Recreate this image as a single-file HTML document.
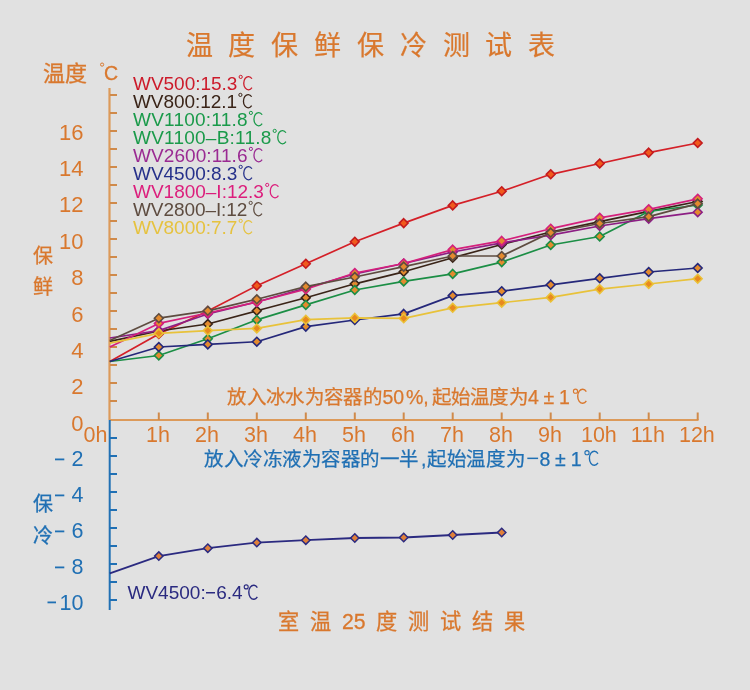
<!DOCTYPE html><html lang="zh-CN"><head><meta charset="utf-8"><style>html,body{margin:0;padding:0;background:#e1e1e1;}svg{display:block;will-change:transform}text{font-family:'Liberation Sans', sans-serif;}</style></head><body>
<svg width="750" height="690" viewBox="0 0 750 690">
<rect width="750" height="690" fill="#e1e1e1"/>
<text x="185.5" y="55.2" font-size="27" fill="#d9782e" stroke="#d9782e" stroke-width="0.22">温</text>
<text x="228.3" y="55.2" font-size="27" fill="#d9782e" stroke="#d9782e" stroke-width="0.22">度</text>
<text x="271.2" y="55.2" font-size="27" fill="#d9782e" stroke="#d9782e" stroke-width="0.22">保</text>
<text x="314.1" y="55.2" font-size="27" fill="#d9782e" stroke="#d9782e" stroke-width="0.22">鲜</text>
<text x="356.9" y="55.2" font-size="27" fill="#d9782e" stroke="#d9782e" stroke-width="0.22">保</text>
<text x="399.8" y="55.2" font-size="27" fill="#d9782e" stroke="#d9782e" stroke-width="0.22">冷</text>
<text x="442.6" y="55.2" font-size="27" fill="#d9782e" stroke="#d9782e" stroke-width="0.22">测</text>
<text x="485.4" y="55.2" font-size="27" fill="#d9782e" stroke="#d9782e" stroke-width="0.22">试</text>
<text x="528.3" y="55.2" font-size="27" fill="#d9782e" stroke="#d9782e" stroke-width="0.22">表</text>
<text x="42.5" y="80.5" font-size="22" fill="#d9782e" stroke="#d9782e" stroke-width="0.35">温度</text>
<circle cx="102.1" cy="64.6" r="1.6" fill="none" stroke="#d9782e" stroke-width="1.0"/>
<text x="104" y="80" font-size="19.5" fill="#d9782e" stroke="#d9782e" stroke-width="0.3">C</text>
<path d="M109.5 88 V420" stroke="#dc9a5a" stroke-width="2.2" fill="none"/>
<path d="M109 420 H698.5" stroke="#dc9a5a" stroke-width="2.2" fill="none"/>
<path d="M110 401 H117 M110 383 H117 M110 365 H117 M110 347 H117 M110 329 H117 M110 311 H117 M110 293 H117 M110 275 H117 M110 257 H117 M110 239 H117 M110 221 H117 M110 203 H117 M110 185 H117 M110 167 H117 M110 149 H117 M110 131 H117 M110 113 H117 M110 95 H117 M158.8 420 V412.5 M207.8 420 V412.5 M256.8 420 V412.5 M305.8 420 V412.5 M354.8 420 V412.5 M403.7 420 V412.5 M452.7 420 V412.5 M501.7 420 V412.5 M550.7 420 V412.5 M599.7 420 V412.5 M648.7 420 V412.5 M697.7 420 V412.5" stroke="#d08a4a" stroke-width="2" fill="none"/>
<text x="83.5" y="430.6" font-size="22" text-anchor="end" fill="#d9782e">0</text>
<text x="83.5" y="394.2" font-size="22" text-anchor="end" fill="#d9782e">2</text>
<text x="83.5" y="357.9" font-size="22" text-anchor="end" fill="#d9782e">4</text>
<text x="83.5" y="321.5" font-size="22" text-anchor="end" fill="#d9782e">6</text>
<text x="83.5" y="285.2" font-size="22" text-anchor="end" fill="#d9782e">8</text>
<text x="83.5" y="248.8" font-size="22" text-anchor="end" fill="#d9782e">10</text>
<text x="83.5" y="212.4" font-size="22" text-anchor="end" fill="#d9782e">12</text>
<text x="83.5" y="176.1" font-size="22" text-anchor="end" fill="#d9782e">14</text>
<text x="83.5" y="139.7" font-size="22" text-anchor="end" fill="#d9782e">16</text>
<text x="95.5" y="441.5" font-size="21.5" text-anchor="middle" fill="#d9782e">0h</text>
<text x="158.0" y="441.5" font-size="21.5" text-anchor="middle" fill="#d9782e">1h</text>
<text x="207.0" y="441.5" font-size="21.5" text-anchor="middle" fill="#d9782e">2h</text>
<text x="256.0" y="441.5" font-size="21.5" text-anchor="middle" fill="#d9782e">3h</text>
<text x="305.0" y="441.5" font-size="21.5" text-anchor="middle" fill="#d9782e">4h</text>
<text x="353.9" y="441.5" font-size="21.5" text-anchor="middle" fill="#d9782e">5h</text>
<text x="402.9" y="441.5" font-size="21.5" text-anchor="middle" fill="#d9782e">6h</text>
<text x="451.9" y="441.5" font-size="21.5" text-anchor="middle" fill="#d9782e">7h</text>
<text x="500.9" y="441.5" font-size="21.5" text-anchor="middle" fill="#d9782e">8h</text>
<text x="549.9" y="441.5" font-size="21.5" text-anchor="middle" fill="#d9782e">9h</text>
<text x="598.9" y="441.5" font-size="21.5" text-anchor="middle" fill="#d9782e">10h</text>
<text x="647.9" y="441.5" font-size="21.5" text-anchor="middle" fill="#d9782e">11h</text>
<text x="696.9" y="441.5" font-size="21.5" text-anchor="middle" fill="#d9782e">12h</text>
<text x="33" y="262.5" font-size="20" fill="#d9782e" stroke="#d9782e" stroke-width="0.3">保</text>
<text x="33" y="294" font-size="20" fill="#d9782e" stroke="#d9782e" stroke-width="0.3">鲜</text>
<path d="M109.7 420 V610" stroke="#2070b4" stroke-width="2" fill="none"/>
<path d="M110 438 H117 M110 456 H117 M110 474 H117 M110 492 H117 M110 510 H117 M110 528 H117 M110 546 H117 M110 564 H117 M110 582 H117 M110 600 H117" stroke="#2070b4" stroke-width="2" fill="none"/>
<text x="83.5" y="466.1" font-size="21.5" text-anchor="end" fill="#2070b4">2</text>
<rect x="55" y="458.5" width="9.3" height="1.8" fill="#2070b4"/>
<text x="83.5" y="502.1" font-size="21.5" text-anchor="end" fill="#2070b4">4</text>
<rect x="55" y="494.5" width="9.3" height="1.8" fill="#2070b4"/>
<text x="83.5" y="538.1" font-size="21.5" text-anchor="end" fill="#2070b4">6</text>
<rect x="55" y="530.5" width="9.3" height="1.8" fill="#2070b4"/>
<text x="83.5" y="574.1" font-size="21.5" text-anchor="end" fill="#2070b4">8</text>
<rect x="55" y="566.5" width="9.3" height="1.8" fill="#2070b4"/>
<text x="83.5" y="609.6" font-size="21.5" text-anchor="end" fill="#2070b4">10</text>
<rect x="47.5" y="601.5" width="8.5" height="1.8" fill="#2070b4"/>
<text x="33" y="510.5" font-size="20" fill="#2070b4" stroke="#2070b4" stroke-width="0.3">保</text>
<text x="33" y="543" font-size="20" fill="#2070b4" stroke="#2070b4" stroke-width="0.3">冷</text>
<polyline points="109.8,361.5 158.8,334 207.8,311 256.8,285.7 305.8,263.8 354.8,241.7 403.7,223.1 452.7,205.4 501.7,191.2 550.7,174.3 599.7,163.5 648.7,152.6 697.7,143" fill="none" stroke="#d42028" stroke-width="1.7" stroke-linejoin="round"/>
<path d="M158.8 329.6 L163.2 334 L158.8 338.4 L154.4 334 Z" fill="#f05a1c" stroke="#c41a1e" stroke-width="1.6"/>
<path d="M207.8 306.6 L212.2 311 L207.8 315.4 L203.4 311 Z" fill="#f05a1c" stroke="#c41a1e" stroke-width="1.6"/>
<path d="M256.8 281.3 L261.2 285.7 L256.8 290.09999999999997 L252.4 285.7 Z" fill="#f05a1c" stroke="#c41a1e" stroke-width="1.6"/>
<path d="M305.8 259.40000000000003 L310.2 263.8 L305.8 268.2 L301.4 263.8 Z" fill="#f05a1c" stroke="#c41a1e" stroke-width="1.6"/>
<path d="M354.8 237.29999999999998 L359.1 241.7 L354.8 246.1 L350.4 241.7 Z" fill="#f05a1c" stroke="#c41a1e" stroke-width="1.6"/>
<path d="M403.7 218.7 L408.1 223.1 L403.7 227.5 L399.3 223.1 Z" fill="#f05a1c" stroke="#c41a1e" stroke-width="1.6"/>
<path d="M452.7 201.0 L457.1 205.4 L452.7 209.8 L448.3 205.4 Z" fill="#f05a1c" stroke="#c41a1e" stroke-width="1.6"/>
<path d="M501.7 186.79999999999998 L506.1 191.2 L501.7 195.6 L497.3 191.2 Z" fill="#f05a1c" stroke="#c41a1e" stroke-width="1.6"/>
<path d="M550.7 169.9 L555.1 174.3 L550.7 178.70000000000002 L546.3 174.3 Z" fill="#f05a1c" stroke="#c41a1e" stroke-width="1.6"/>
<path d="M599.7 159.1 L604.1 163.5 L599.7 167.9 L595.3 163.5 Z" fill="#f05a1c" stroke="#c41a1e" stroke-width="1.6"/>
<path d="M648.7 148.2 L653.1 152.6 L648.7 157.0 L644.3 152.6 Z" fill="#f05a1c" stroke="#c41a1e" stroke-width="1.6"/>
<path d="M697.7 138.6 L702.1 143 L697.7 147.4 L693.3 143 Z" fill="#f05a1c" stroke="#c41a1e" stroke-width="1.6"/>
<polyline points="109.8,341.3 158.8,331 207.8,324 256.8,310.8 305.8,297.7 354.8,283.8 403.7,271.8 452.7,257.7 501.7,244.5 550.7,232 599.7,221.7 648.7,211.4 697.7,201.5" fill="none" stroke="#3a2418" stroke-width="1.7" stroke-linejoin="round"/>
<path d="M158.8 326.6 L163.2 331 L158.8 335.4 L154.4 331 Z" fill="#e38a2e" stroke="#3a2418" stroke-width="1.6"/>
<path d="M207.8 319.6 L212.2 324 L207.8 328.4 L203.4 324 Z" fill="#e38a2e" stroke="#3a2418" stroke-width="1.6"/>
<path d="M256.8 306.40000000000003 L261.2 310.8 L256.8 315.2 L252.4 310.8 Z" fill="#e38a2e" stroke="#3a2418" stroke-width="1.6"/>
<path d="M305.8 293.3 L310.2 297.7 L305.8 302.09999999999997 L301.4 297.7 Z" fill="#e38a2e" stroke="#3a2418" stroke-width="1.6"/>
<path d="M354.8 279.40000000000003 L359.1 283.8 L354.8 288.2 L350.4 283.8 Z" fill="#e38a2e" stroke="#3a2418" stroke-width="1.6"/>
<path d="M403.7 267.40000000000003 L408.1 271.8 L403.7 276.2 L399.3 271.8 Z" fill="#e38a2e" stroke="#3a2418" stroke-width="1.6"/>
<path d="M452.7 253.29999999999998 L457.1 257.7 L452.7 262.09999999999997 L448.3 257.7 Z" fill="#e38a2e" stroke="#3a2418" stroke-width="1.6"/>
<path d="M501.7 240.1 L506.1 244.5 L501.7 248.9 L497.3 244.5 Z" fill="#e38a2e" stroke="#3a2418" stroke-width="1.6"/>
<path d="M550.7 227.6 L555.1 232 L550.7 236.4 L546.3 232 Z" fill="#e38a2e" stroke="#3a2418" stroke-width="1.6"/>
<path d="M599.7 217.29999999999998 L604.1 221.7 L599.7 226.1 L595.3 221.7 Z" fill="#e38a2e" stroke="#3a2418" stroke-width="1.6"/>
<path d="M648.7 207.0 L653.1 211.4 L648.7 215.8 L644.3 211.4 Z" fill="#e38a2e" stroke="#3a2418" stroke-width="1.6"/>
<path d="M697.7 197.1 L702.1 201.5 L697.7 205.9 L693.3 201.5 Z" fill="#e38a2e" stroke="#3a2418" stroke-width="1.6"/>
<polyline points="109.8,361.5 158.8,355.5 207.8,338.8 256.8,319.9 305.8,304.9 354.8,290 403.7,281.4 452.7,273.9 501.7,262.1 550.7,245 599.7,236.5 648.7,211.5 697.7,205" fill="none" stroke="#1b8e45" stroke-width="1.7" stroke-linejoin="round"/>
<path d="M158.8 351.1 L163.2 355.5 L158.8 359.9 L154.4 355.5 Z" fill="#e38a2e" stroke="#1b8e45" stroke-width="1.6"/>
<path d="M207.8 334.40000000000003 L212.2 338.8 L207.8 343.2 L203.4 338.8 Z" fill="#e38a2e" stroke="#1b8e45" stroke-width="1.6"/>
<path d="M256.8 315.5 L261.2 319.9 L256.8 324.29999999999995 L252.4 319.9 Z" fill="#e38a2e" stroke="#1b8e45" stroke-width="1.6"/>
<path d="M305.8 300.5 L310.2 304.9 L305.8 309.29999999999995 L301.4 304.9 Z" fill="#e38a2e" stroke="#1b8e45" stroke-width="1.6"/>
<path d="M354.8 285.6 L359.1 290 L354.8 294.4 L350.4 290 Z" fill="#e38a2e" stroke="#1b8e45" stroke-width="1.6"/>
<path d="M403.7 277.0 L408.1 281.4 L403.7 285.79999999999995 L399.3 281.4 Z" fill="#e38a2e" stroke="#1b8e45" stroke-width="1.6"/>
<path d="M452.7 269.5 L457.1 273.9 L452.7 278.29999999999995 L448.3 273.9 Z" fill="#e38a2e" stroke="#1b8e45" stroke-width="1.6"/>
<path d="M501.7 257.70000000000005 L506.1 262.1 L501.7 266.5 L497.3 262.1 Z" fill="#e38a2e" stroke="#1b8e45" stroke-width="1.6"/>
<path d="M550.7 240.6 L555.1 245 L550.7 249.4 L546.3 245 Z" fill="#e38a2e" stroke="#1b8e45" stroke-width="1.6"/>
<path d="M599.7 232.1 L604.1 236.5 L599.7 240.9 L595.3 236.5 Z" fill="#e38a2e" stroke="#1b8e45" stroke-width="1.6"/>
<path d="M648.7 207.1 L653.1 211.5 L648.7 215.9 L644.3 211.5 Z" fill="#e38a2e" stroke="#1b8e45" stroke-width="1.6"/>
<path d="M697.7 200.6 L702.1 205 L697.7 209.4 L693.3 205 Z" fill="#e38a2e" stroke="#1b8e45" stroke-width="1.6"/>
<polyline points="109.8,338 158.8,330.6 207.8,314 256.8,302 305.8,288 354.8,274 403.7,263.5 452.7,252 501.7,242.9 550.7,235.2 599.7,226 648.7,218.7 697.7,212.2" fill="none" stroke="#8c1e84" stroke-width="1.7" stroke-linejoin="round"/>
<path d="M158.8 326.20000000000005 L163.2 330.6 L158.8 335.0 L154.4 330.6 Z" fill="#e38a2e" stroke="#8c1e84" stroke-width="1.6"/>
<path d="M207.8 309.6 L212.2 314 L207.8 318.4 L203.4 314 Z" fill="#e38a2e" stroke="#8c1e84" stroke-width="1.6"/>
<path d="M256.8 297.6 L261.2 302 L256.8 306.4 L252.4 302 Z" fill="#e38a2e" stroke="#8c1e84" stroke-width="1.6"/>
<path d="M305.8 283.6 L310.2 288 L305.8 292.4 L301.4 288 Z" fill="#e38a2e" stroke="#8c1e84" stroke-width="1.6"/>
<path d="M354.8 269.6 L359.1 274 L354.8 278.4 L350.4 274 Z" fill="#e38a2e" stroke="#8c1e84" stroke-width="1.6"/>
<path d="M403.7 259.1 L408.1 263.5 L403.7 267.9 L399.3 263.5 Z" fill="#e38a2e" stroke="#8c1e84" stroke-width="1.6"/>
<path d="M452.7 247.6 L457.1 252 L452.7 256.4 L448.3 252 Z" fill="#e38a2e" stroke="#8c1e84" stroke-width="1.6"/>
<path d="M501.7 238.5 L506.1 242.9 L501.7 247.3 L497.3 242.9 Z" fill="#e38a2e" stroke="#8c1e84" stroke-width="1.6"/>
<path d="M550.7 230.79999999999998 L555.1 235.2 L550.7 239.6 L546.3 235.2 Z" fill="#e38a2e" stroke="#8c1e84" stroke-width="1.6"/>
<path d="M599.7 221.6 L604.1 226 L599.7 230.4 L595.3 226 Z" fill="#e38a2e" stroke="#8c1e84" stroke-width="1.6"/>
<path d="M648.7 214.29999999999998 L653.1 218.7 L648.7 223.1 L644.3 218.7 Z" fill="#e38a2e" stroke="#8c1e84" stroke-width="1.6"/>
<path d="M697.7 207.79999999999998 L702.1 212.2 L697.7 216.6 L693.3 212.2 Z" fill="#e38a2e" stroke="#8c1e84" stroke-width="1.6"/>
<polyline points="109.8,361.5 158.8,347 207.8,344.4 256.8,341.7 305.8,326.6 354.8,320 403.7,313.9 452.7,295.6 501.7,291.2 550.7,284.8 599.7,278.3 648.7,272 697.7,268" fill="none" stroke="#25287a" stroke-width="1.7" stroke-linejoin="round"/>
<path d="M158.8 342.6 L163.2 347 L158.8 351.4 L154.4 347 Z" fill="#e38a2e" stroke="#25287a" stroke-width="1.6"/>
<path d="M207.8 340.0 L212.2 344.4 L207.8 348.79999999999995 L203.4 344.4 Z" fill="#e38a2e" stroke="#25287a" stroke-width="1.6"/>
<path d="M256.8 337.3 L261.2 341.7 L256.8 346.09999999999997 L252.4 341.7 Z" fill="#e38a2e" stroke="#25287a" stroke-width="1.6"/>
<path d="M305.8 322.20000000000005 L310.2 326.6 L305.8 331.0 L301.4 326.6 Z" fill="#e38a2e" stroke="#25287a" stroke-width="1.6"/>
<path d="M354.8 315.6 L359.1 320 L354.8 324.4 L350.4 320 Z" fill="#e38a2e" stroke="#25287a" stroke-width="1.6"/>
<path d="M403.7 309.5 L408.1 313.9 L403.7 318.29999999999995 L399.3 313.9 Z" fill="#e38a2e" stroke="#25287a" stroke-width="1.6"/>
<path d="M452.7 291.20000000000005 L457.1 295.6 L452.7 300.0 L448.3 295.6 Z" fill="#e38a2e" stroke="#25287a" stroke-width="1.6"/>
<path d="M501.7 286.8 L506.1 291.2 L501.7 295.59999999999997 L497.3 291.2 Z" fill="#e38a2e" stroke="#25287a" stroke-width="1.6"/>
<path d="M550.7 280.40000000000003 L555.1 284.8 L550.7 289.2 L546.3 284.8 Z" fill="#e38a2e" stroke="#25287a" stroke-width="1.6"/>
<path d="M599.7 273.90000000000003 L604.1 278.3 L599.7 282.7 L595.3 278.3 Z" fill="#e38a2e" stroke="#25287a" stroke-width="1.6"/>
<path d="M648.7 267.6 L653.1 272 L648.7 276.4 L644.3 272 Z" fill="#e38a2e" stroke="#25287a" stroke-width="1.6"/>
<path d="M697.7 263.6 L702.1 268 L697.7 272.4 L693.3 268 Z" fill="#e38a2e" stroke="#25287a" stroke-width="1.6"/>
<polyline points="109.8,347 158.8,323.4 207.8,313 256.8,302 305.8,289.2 354.8,273 403.7,263.5 452.7,249.6 501.7,240.9 550.7,228.7 599.7,217.8 648.7,209.3 697.7,198.8" fill="none" stroke="#d4207c" stroke-width="1.7" stroke-linejoin="round"/>
<path d="M158.8 319.0 L163.2 323.4 L158.8 327.79999999999995 L154.4 323.4 Z" fill="#e38a2e" stroke="#d4207c" stroke-width="1.6"/>
<path d="M207.8 308.6 L212.2 313 L207.8 317.4 L203.4 313 Z" fill="#e38a2e" stroke="#d4207c" stroke-width="1.6"/>
<path d="M256.8 297.6 L261.2 302 L256.8 306.4 L252.4 302 Z" fill="#e38a2e" stroke="#d4207c" stroke-width="1.6"/>
<path d="M305.8 284.8 L310.2 289.2 L305.8 293.59999999999997 L301.4 289.2 Z" fill="#e38a2e" stroke="#d4207c" stroke-width="1.6"/>
<path d="M354.8 268.6 L359.1 273 L354.8 277.4 L350.4 273 Z" fill="#e38a2e" stroke="#d4207c" stroke-width="1.6"/>
<path d="M403.7 259.1 L408.1 263.5 L403.7 267.9 L399.3 263.5 Z" fill="#e38a2e" stroke="#d4207c" stroke-width="1.6"/>
<path d="M452.7 245.2 L457.1 249.6 L452.7 254.0 L448.3 249.6 Z" fill="#e38a2e" stroke="#d4207c" stroke-width="1.6"/>
<path d="M501.7 236.5 L506.1 240.9 L501.7 245.3 L497.3 240.9 Z" fill="#e38a2e" stroke="#d4207c" stroke-width="1.6"/>
<path d="M550.7 224.29999999999998 L555.1 228.7 L550.7 233.1 L546.3 228.7 Z" fill="#e38a2e" stroke="#d4207c" stroke-width="1.6"/>
<path d="M599.7 213.4 L604.1 217.8 L599.7 222.20000000000002 L595.3 217.8 Z" fill="#e38a2e" stroke="#d4207c" stroke-width="1.6"/>
<path d="M648.7 204.9 L653.1 209.3 L648.7 213.70000000000002 L644.3 209.3 Z" fill="#e38a2e" stroke="#d4207c" stroke-width="1.6"/>
<path d="M697.7 194.4 L702.1 198.8 L697.7 203.20000000000002 L693.3 198.8 Z" fill="#e38a2e" stroke="#d4207c" stroke-width="1.6"/>
<polyline points="109.8,340.6 158.8,318.2 207.8,310.8 256.8,299.3 305.8,286.6 354.8,277 403.7,266.6 452.7,256 501.7,256 550.7,232.6 599.7,223.5 648.7,216.6 697.7,203.6" fill="none" stroke="#5e4c40" stroke-width="1.7" stroke-linejoin="round"/>
<path d="M158.8 313.8 L163.2 318.2 L158.8 322.59999999999997 L154.4 318.2 Z" fill="#e38a2e" stroke="#5e4c40" stroke-width="1.6"/>
<path d="M207.8 306.40000000000003 L212.2 310.8 L207.8 315.2 L203.4 310.8 Z" fill="#e38a2e" stroke="#5e4c40" stroke-width="1.6"/>
<path d="M256.8 294.90000000000003 L261.2 299.3 L256.8 303.7 L252.4 299.3 Z" fill="#e38a2e" stroke="#5e4c40" stroke-width="1.6"/>
<path d="M305.8 282.20000000000005 L310.2 286.6 L305.8 291.0 L301.4 286.6 Z" fill="#e38a2e" stroke="#5e4c40" stroke-width="1.6"/>
<path d="M354.8 272.6 L359.1 277 L354.8 281.4 L350.4 277 Z" fill="#e38a2e" stroke="#5e4c40" stroke-width="1.6"/>
<path d="M403.7 262.20000000000005 L408.1 266.6 L403.7 271.0 L399.3 266.6 Z" fill="#e38a2e" stroke="#5e4c40" stroke-width="1.6"/>
<path d="M452.7 251.6 L457.1 256 L452.7 260.4 L448.3 256 Z" fill="#e38a2e" stroke="#5e4c40" stroke-width="1.6"/>
<path d="M501.7 251.6 L506.1 256 L501.7 260.4 L497.3 256 Z" fill="#e38a2e" stroke="#5e4c40" stroke-width="1.6"/>
<path d="M550.7 228.2 L555.1 232.6 L550.7 237.0 L546.3 232.6 Z" fill="#e38a2e" stroke="#5e4c40" stroke-width="1.6"/>
<path d="M599.7 219.1 L604.1 223.5 L599.7 227.9 L595.3 223.5 Z" fill="#e38a2e" stroke="#5e4c40" stroke-width="1.6"/>
<path d="M648.7 212.2 L653.1 216.6 L648.7 221.0 L644.3 216.6 Z" fill="#e38a2e" stroke="#5e4c40" stroke-width="1.6"/>
<path d="M697.7 199.2 L702.1 203.6 L697.7 208.0 L693.3 203.6 Z" fill="#e38a2e" stroke="#5e4c40" stroke-width="1.6"/>
<polyline points="109.8,343.2 158.8,333.3 207.8,330.6 256.8,328.4 305.8,319.7 354.8,317.9 403.7,318.3 452.7,307.8 501.7,302.7 550.7,297.4 599.7,289.1 648.7,284 697.7,278.7" fill="none" stroke="#e8c23a" stroke-width="1.7" stroke-linejoin="round"/>
<path d="M158.8 328.90000000000003 L163.2 333.3 L158.8 337.7 L154.4 333.3 Z" fill="#e8891f" stroke="#ebc035" stroke-width="1.6"/>
<path d="M207.8 326.20000000000005 L212.2 330.6 L207.8 335.0 L203.4 330.6 Z" fill="#e8891f" stroke="#ebc035" stroke-width="1.6"/>
<path d="M256.8 324.0 L261.2 328.4 L256.8 332.79999999999995 L252.4 328.4 Z" fill="#e8891f" stroke="#ebc035" stroke-width="1.6"/>
<path d="M305.8 315.3 L310.2 319.7 L305.8 324.09999999999997 L301.4 319.7 Z" fill="#e8891f" stroke="#ebc035" stroke-width="1.6"/>
<path d="M354.8 313.5 L359.1 317.9 L354.8 322.29999999999995 L350.4 317.9 Z" fill="#e8891f" stroke="#ebc035" stroke-width="1.6"/>
<path d="M403.7 313.90000000000003 L408.1 318.3 L403.7 322.7 L399.3 318.3 Z" fill="#e8891f" stroke="#ebc035" stroke-width="1.6"/>
<path d="M452.7 303.40000000000003 L457.1 307.8 L452.7 312.2 L448.3 307.8 Z" fill="#e8891f" stroke="#ebc035" stroke-width="1.6"/>
<path d="M501.7 298.3 L506.1 302.7 L501.7 307.09999999999997 L497.3 302.7 Z" fill="#e8891f" stroke="#ebc035" stroke-width="1.6"/>
<path d="M550.7 293.0 L555.1 297.4 L550.7 301.79999999999995 L546.3 297.4 Z" fill="#e8891f" stroke="#ebc035" stroke-width="1.6"/>
<path d="M599.7 284.70000000000005 L604.1 289.1 L599.7 293.5 L595.3 289.1 Z" fill="#e8891f" stroke="#ebc035" stroke-width="1.6"/>
<path d="M648.7 279.6 L653.1 284 L648.7 288.4 L644.3 284 Z" fill="#e8891f" stroke="#ebc035" stroke-width="1.6"/>
<path d="M697.7 274.3 L702.1 278.7 L697.7 283.09999999999997 L693.3 278.7 Z" fill="#e8891f" stroke="#ebc035" stroke-width="1.6"/>
<polyline points="109.8,573.4 158.8,556.1 207.8,548.2 256.8,542.6 305.8,540.2 354.8,538 403.7,537.5 452.7,535 501.7,532.5" fill="none" stroke="#2b2a80" stroke-width="1.8"/>
<path d="M158.8 551.9 L163.0 556.1 L158.8 560.3000000000001 L154.6 556.1 Z" fill="#e0803a" stroke="#2b2a80" stroke-width="1.5"/>
<path d="M207.8 544.0 L212.0 548.2 L207.8 552.4000000000001 L203.6 548.2 Z" fill="#e0803a" stroke="#2b2a80" stroke-width="1.5"/>
<path d="M256.8 538.4 L261.0 542.6 L256.8 546.8000000000001 L252.6 542.6 Z" fill="#e0803a" stroke="#2b2a80" stroke-width="1.5"/>
<path d="M305.8 536.0 L310.0 540.2 L305.8 544.4000000000001 L301.6 540.2 Z" fill="#e0803a" stroke="#2b2a80" stroke-width="1.5"/>
<path d="M354.8 533.8 L358.9 538 L354.8 542.2 L350.6 538 Z" fill="#e0803a" stroke="#2b2a80" stroke-width="1.5"/>
<path d="M403.7 533.3 L407.9 537.5 L403.7 541.7 L399.5 537.5 Z" fill="#e0803a" stroke="#2b2a80" stroke-width="1.5"/>
<path d="M452.7 530.8 L456.9 535 L452.7 539.2 L448.5 535 Z" fill="#e0803a" stroke="#2b2a80" stroke-width="1.5"/>
<path d="M501.7 528.3 L505.9 532.5 L501.7 536.7 L497.5 532.5 Z" fill="#e0803a" stroke="#2b2a80" stroke-width="1.5"/>
<text x="133" y="89.5" font-size="19" fill="#cc1a2a" textLength="104.35" lengthAdjust="spacing">WV500:15.3</text>
<path d="M251.94 78.75 A4.70 6.65 0 1 0 251.94 87.65" fill="none" stroke="#cc1a2a" stroke-width="1.3"/><circle cx="240.70" cy="76.90" r="1.60" fill="none" stroke="#cc1a2a" stroke-width="1.0"/>
<text x="133" y="107.5" font-size="19" fill="#3a2418" textLength="104.05" lengthAdjust="spacing">WV800:12.1</text>
<path d="M251.64 96.75 A4.70 6.65 0 1 0 251.64 105.65" fill="none" stroke="#3a2418" stroke-width="1.3"/><circle cx="240.40" cy="94.90" r="1.60" fill="none" stroke="#3a2418" stroke-width="1.0"/>
<text x="133" y="125.5" font-size="19" fill="#1a9a4a" textLength="114.55" lengthAdjust="spacing">WV1100:11.8</text>
<path d="M262.14 114.75 A4.70 6.65 0 1 0 262.14 123.65" fill="none" stroke="#1a9a4a" stroke-width="1.3"/><circle cx="250.90" cy="112.90" r="1.60" fill="none" stroke="#1a9a4a" stroke-width="1.0"/>
<text x="133" y="143.5" font-size="19" fill="#1a9a4a" textLength="138.35" lengthAdjust="spacing">WV1100–B:11.8</text>
<path d="M285.94 132.75 A4.70 6.65 0 1 0 285.94 141.65" fill="none" stroke="#1a9a4a" stroke-width="1.3"/><circle cx="274.70" cy="130.90" r="1.60" fill="none" stroke="#1a9a4a" stroke-width="1.0"/>
<text x="133" y="161.5" font-size="19" fill="#9a2a92" textLength="114.55" lengthAdjust="spacing">WV2600:11.6</text>
<path d="M262.14 150.75 A4.70 6.65 0 1 0 262.14 159.65" fill="none" stroke="#9a2a92" stroke-width="1.3"/><circle cx="250.90" cy="148.90" r="1.60" fill="none" stroke="#9a2a92" stroke-width="1.0"/>
<text x="133" y="179.5" font-size="19" fill="#25308a" textLength="104.35" lengthAdjust="spacing">WV4500:8.3</text>
<path d="M251.94 168.75 A4.70 6.65 0 1 0 251.94 177.65" fill="none" stroke="#25308a" stroke-width="1.3"/><circle cx="240.70" cy="166.90" r="1.60" fill="none" stroke="#25308a" stroke-width="1.0"/>
<text x="133" y="197.5" font-size="19" fill="#dc1e7c" textLength="130.85" lengthAdjust="spacing">WV1800–I:12.3</text>
<path d="M278.44 186.75 A4.70 6.65 0 1 0 278.44 195.65" fill="none" stroke="#dc1e7c" stroke-width="1.3"/><circle cx="267.20" cy="184.90" r="1.60" fill="none" stroke="#dc1e7c" stroke-width="1.0"/>
<text x="133" y="215.5" font-size="19" fill="#5e4c40" textLength="114.35" lengthAdjust="spacing">WV2800–I:12</text>
<path d="M261.94 204.75 A4.70 6.65 0 1 0 261.94 213.65" fill="none" stroke="#5e4c40" stroke-width="1.3"/><circle cx="250.70" cy="202.90" r="1.60" fill="none" stroke="#5e4c40" stroke-width="1.0"/>
<text x="133" y="233.5" font-size="19" fill="#e6c23e" textLength="104.35" lengthAdjust="spacing">WV8000:7.7</text>
<path d="M251.94 222.75 A4.70 6.65 0 1 0 251.94 231.65" fill="none" stroke="#e6c23e" stroke-width="1.3"/><circle cx="240.70" cy="220.90" r="1.60" fill="none" stroke="#e6c23e" stroke-width="1.0"/>
<text y="403.8" font-size="19.5" fill="#d9782e" stroke="#d9782e" stroke-width="0.25"><tspan x="227.2" textLength="155.3" lengthAdjust="spacing">放入冰水为容器的</tspan><tspan x="382.5">50</tspan><tspan x="406">%,</tspan><tspan x="431.7" textLength="97" lengthAdjust="spacing">起始温度为</tspan><tspan x="528">4</tspan><tspan x="543.4">±</tspan><tspan x="559.1">1</tspan></text>
<path d="M586.33 391.53 A4.95 7.05 0 1 0 586.33 400.97" fill="none" stroke="#d9782e" stroke-width="1.4"/><circle cx="575.50" cy="391.20" r="2.10" fill="none" stroke="#d9782e" stroke-width="1.1"/>
<text y="466" font-size="19.5" fill="#2070b4" stroke="#2070b4" stroke-width="0.25"><tspan x="204" textLength="215.4" lengthAdjust="spacing">放入冷冻液为容器的一半</tspan><tspan x="421">,</tspan><tspan x="427" textLength="98.5" lengthAdjust="spacing">起始温度为</tspan><tspan x="539.6">8</tspan><tspan x="555">±</tspan><tspan x="570.8">1</tspan></text>
<rect x="527.3" y="457.6" width="10.8" height="1.5" fill="#2070b4"/>
<path d="M597.94 453.53 A4.90 7.05 0 1 0 597.94 462.97" fill="none" stroke="#2070b4" stroke-width="1.4"/><circle cx="587.00" cy="452.70" r="2.10" fill="none" stroke="#2070b4" stroke-width="1.1"/>
<text x="127.5" y="599" font-size="19" fill="#2a2a80"><tspan textLength="78.2" lengthAdjust="spacing">WV4500:</tspan><tspan x="216.2">6.4</tspan></text>
<rect x="206" y="592" width="9" height="1.5" fill="#2a2a80"/>
<path d="M257.34 587.53 A4.90 7.05 0 1 0 257.34 596.97" fill="none" stroke="#2a2a80" stroke-width="1.4"/><circle cx="246.20" cy="586.90" r="2.00" fill="none" stroke="#2a2a80" stroke-width="1.1"/>
<text x="278" y="629" font-size="21.2" fill="#d9782e" stroke="#d9782e" stroke-width="0.3">室</text>
<text x="310" y="629" font-size="21.2" fill="#d9782e" stroke="#d9782e" stroke-width="0.3">温</text>
<text x="342" y="629" font-size="21.2" fill="#d9782e" stroke="#d9782e" stroke-width="0.3">25</text>
<text x="376" y="629" font-size="21.2" fill="#d9782e" stroke="#d9782e" stroke-width="0.3">度</text>
<text x="408" y="629" font-size="21.2" fill="#d9782e" stroke="#d9782e" stroke-width="0.3">测</text>
<text x="440" y="629" font-size="21.2" fill="#d9782e" stroke="#d9782e" stroke-width="0.3">试</text>
<text x="472" y="629" font-size="21.2" fill="#d9782e" stroke="#d9782e" stroke-width="0.3">结</text>
<text x="504" y="629" font-size="21.2" fill="#d9782e" stroke="#d9782e" stroke-width="0.3">果</text>
</svg></body></html>
